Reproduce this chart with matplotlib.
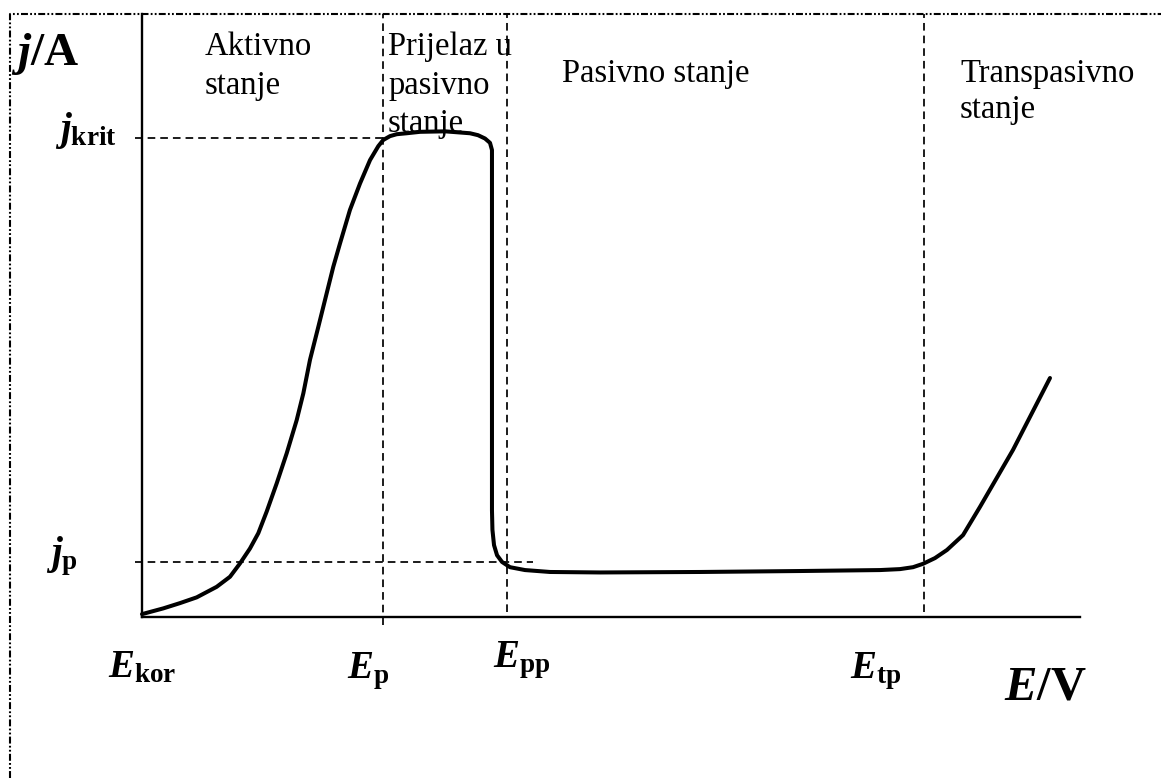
import matplotlib
matplotlib.use("Agg")
import matplotlib.pyplot as plt
from matplotlib.lines import Line2D

plt.rcParams['font.family'] = ['Liberation Serif', 'DejaVu Serif']
plt.rcParams['mathtext.fontset'] = 'custom'
plt.rcParams['mathtext.it'] = 'Liberation Serif:italic:bold'
plt.rcParams['mathtext.rm'] = 'Liberation Serif:bold'
plt.rcParams['mathtext.bf'] = 'Liberation Serif:bold'
plt.rcParams['lines.scale_dashes'] = False

# ---- data (arbitrary units: potential E, current density j) ----
E_curve = [0.000, 0.227, 0.405, 0.583, 0.796, 0.938, 1.045, 1.151, 1.240, 1.329,
           1.436, 1.543, 1.649, 1.720, 1.791, 1.880, 1.969, 2.039, 2.111, 2.217,
           2.324, 2.431, 2.519, 2.572, 2.644, 2.715, 2.822, 2.964, 3.230, 3.497,
           3.582, 3.657, 3.710, 3.731, 3.731, 3.736, 3.753, 3.785, 3.838, 3.923,
           4.083, 4.350, 4.883, 5.949, 7.015, 7.868, 8.081, 8.220, 8.326, 8.454,
           8.582, 8.753, 8.934, 9.286, 9.680]
j_curve = [0.006, 0.018, 0.029, 0.041, 0.063, 0.084, 0.112, 0.143, 0.175, 0.220,
           0.279, 0.342, 0.411, 0.467, 0.537, 0.606, 0.676, 0.731, 0.780, 0.850,
           0.905, 0.954, 0.983, 0.996, 1.004, 1.008, 1.010, 1.013, 1.014, 1.010,
           1.006, 0.999, 0.990, 0.975, 0.223, 0.182, 0.150, 0.129, 0.115, 0.104,
           0.098, 0.094, 0.093, 0.094, 0.096, 0.098, 0.100, 0.104, 0.111, 0.123,
           0.140, 0.171, 0.230, 0.349, 0.499]

E_marks = {'kor': 0.0, 'p': 2.569, 'pp': 3.891, 'tp': 8.337}
j_krit = 1.0
j_p = 0.115

E_max = 10.0
j_max = 1.259

region_labels = ["Aktivno\nstanje", "Prijelaz u\npasivno\nstanje", "Pasivno stanje",
                 "Transpasivno\nstanje"]
E_tick_labels = [r'$E_{\mathrm{kor}}$', r'$E_{\mathrm{p}}$', r'$E_{\mathrm{pp}}$', r'$E_{\mathrm{tp}}$']
j_tick_labels = [r'$j_{\mathrm{krit}}$', r'$j_{\mathrm{p}}$']

# ---- figure ----
W, H = 1161, 778
fig = plt.figure(figsize=(W / 100, H / 100), dpi=100)
fig.patch.set_facecolor('white')

# dash-dot-dot frame
frame_style = (0, (5.0, 1.6, 1.3, 1.6, 1.3, 1.6))
fig.add_artist(Line2D([10 / W, 10 / W, 1.0], [0.0, 1 - 14 / H, 1 - 14 / H],
                      transform=fig.transFigure, color='black', lw=1.5,
                      linestyle=frame_style))

ax = fig.add_axes([142 / W, (H - 617) / H, (1080 - 142) / W, (617 - 14) / H])
ax.set_xlim(0, E_max)
ax.set_ylim(0, j_max)
for s in ['top', 'right']:
    ax.spines[s].set_visible(False)
for s in ['left', 'bottom']:
    ax.spines[s].set_linewidth(1.7)
ax.set_xticks([])
ax.set_yticks([])
ax.patch.set_alpha(0)

dash = (0, (5.5, 3.6))
glw = 1.25
# horizontal guides
ax.plot([-0.075, E_marks['p']], [j_krit, j_krit], color='black', lw=glw, ls=dash, clip_on=False)
ax.plot([-0.075, 4.17], [j_p, j_p], color='black', lw=glw, ls=dash, clip_on=False)
# vertical guides
ax.plot([E_marks['p'], E_marks['p']], [-0.017, j_max], color='black', lw=glw, ls=dash, clip_on=False)
ax.plot([E_marks['pp'], E_marks['pp']], [0.01, j_max], color='black', lw=glw, ls=dash, clip_on=False)
ax.plot([E_marks['tp'], E_marks['tp']], [0.01, j_max], color='black', lw=glw, ls=dash, clip_on=False)

# polarisation curve
ax.plot(E_curve, j_curve, color='black', lw=2.9, solid_joinstyle='round',
        solid_capstyle='round', clip_on=False)

reg_fs = 23.5
lbl_fs = 28

def txt(x, y, s, fs, **kw):
    ax.text(x, y, s, fontsize=fs, ha='left', va='baseline', clip_on=False, **kw)

# axis titles
txt(-1.40, 1.152, r'$j/\mathbf{A}$', 34)
txt(9.19, -0.172, r'$E/\mathbf{V}$', 35)

# region labels (one line per text call for precise spacing)
def multiline(x, y0, s, dy=0.080):
    for i, line in enumerate(s.split('\n')):
        txt(x, y0 - i * dy, line, reg_fs)

multiline(0.672, 1.173, region_labels[0])
multiline(2.623, 1.173, region_labels[1])
multiline(4.478, 1.117, region_labels[2])
multiline(8.721, 1.117, region_labels[3], dy=0.076)

# j labels
txt(-0.93, 0.996, j_tick_labels[0], lbl_fs)
txt(-1.02, 0.109, j_tick_labels[1], lbl_fs)

# E labels
txt(-0.362, -0.125, E_tick_labels[0], lbl_fs)
txt(2.186, -0.129, E_tick_labels[1], lbl_fs)
txt(3.742, -0.106, E_tick_labels[2], lbl_fs)
txt(7.548, -0.129, E_tick_labels[3], lbl_fs)

fig.savefig('out.png', dpi=100)
